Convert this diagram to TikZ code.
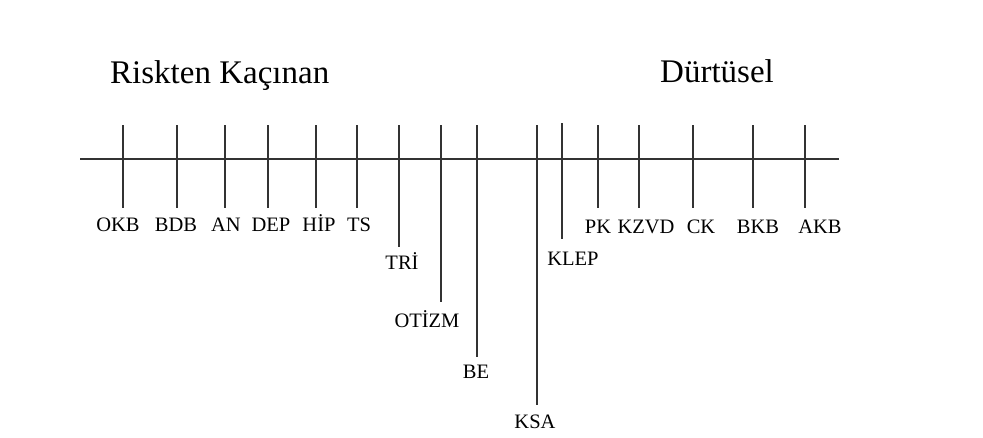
\documentclass[tikz,border=0pt]{standalone}
\usepackage{fontspec}
\setmainfont{Liberation Serif}
\definecolor{linegray}{HTML}{333333}
\usetikzlibrary{positioning}

\begin{document}
\begin{tikzpicture}[
  x=1pt, y=-1pt,
  axis/.style={draw=linegray, line width=1.3pt},
  tick/.style={draw=linegray, line width=1.3pt},
  lbl/.style={anchor=base, inner sep=0pt, font=\fontsize{20.5}{24}\selectfont},
  ttl/.style={anchor=base west, inner sep=0pt, font=\fontsize{33}{38}\selectfont},
]
\useasboundingbox (0,0) rectangle (983,437);

% titles
\node[ttl] (risk) at (110,83) {Riskten Kaçınan};
\node[ttl] (durt) at (660,82) {Dürtüsel};

% axis
\coordinate (axL) at (80,159);
\coordinate (axR) at (839,159);
\draw[axis] (axL) -- (axR);

% left side
\node[lbl] (okb) at (118,231) {OKB};
\node[lbl] (bdb) at (176,231) {BDB};
\node[lbl] (an) at (226,231) {AN};
\node[lbl] (dep) at (271,231) {DEP};
\node[lbl] (hip) at (319,231) {HİP};
\node[lbl] (ts) at (359,231) {TS};
\draw[tick] (123,125) coordinate (okbT) -- (123,208) coordinate (okbB);
\draw[tick] (177,125) coordinate (bdbT) -- (177,208) coordinate (bdbB);
\draw[tick] (225,125) coordinate (anT) -- (225,208) coordinate (anB);
\draw[tick] (268,125) coordinate (depT) -- (268,208) coordinate (depB);
\draw[tick] (316,125) coordinate (hipT) -- (316,208) coordinate (hipB);
\draw[tick] (357,125) coordinate (tsT) -- (357,208) coordinate (tsB);

% middle, long ticks
\node[lbl] (tri) at (402,269) {TRİ};
\node[lbl] (otizm) at (427,327) {OTİZM};
\node[lbl] (be) at (476,378) {BE};
\node[lbl] (ksa) at (535,428) {KSA};
\node[lbl] (klep) at (573,265) {KLEP};
\draw[tick] (399,125) coordinate (triT) -- (399,247) coordinate (triB);
\draw[tick] (441,125) coordinate (otizmT) -- (441,302) coordinate (otizmB);
\draw[tick] (477,125) coordinate (beT) -- (477,357) coordinate (beB);
\draw[tick] (537,125) coordinate (ksaT) -- (537,405) coordinate (ksaB);
\draw[tick] (562,123) coordinate (klepT) -- (562,239) coordinate (klepB);

% right side
\node[lbl] (pk) at (598,233) {PK};
\node[lbl] (kzvd) at (646,233) {KZVD};
\node[lbl] (ck) at (701,233) {CK};
\node[lbl] (bkb) at (758,233) {BKB};
\node[lbl] (akb) at (820,233) {AKB};
\draw[tick] (598,125) coordinate (pkT) -- (598,208) coordinate (pkB);
\draw[tick] (639,125) coordinate (kzvdT) -- (639,208) coordinate (kzvdB);
\draw[tick] (693,125) coordinate (ckT) -- (693,208) coordinate (ckB);
\draw[tick] (753,125) coordinate (bkbT) -- (753,208) coordinate (bkbB);
\draw[tick] (805,125) coordinate (akbT) -- (805,208) coordinate (akbB);
\end{tikzpicture}
\end{document}
